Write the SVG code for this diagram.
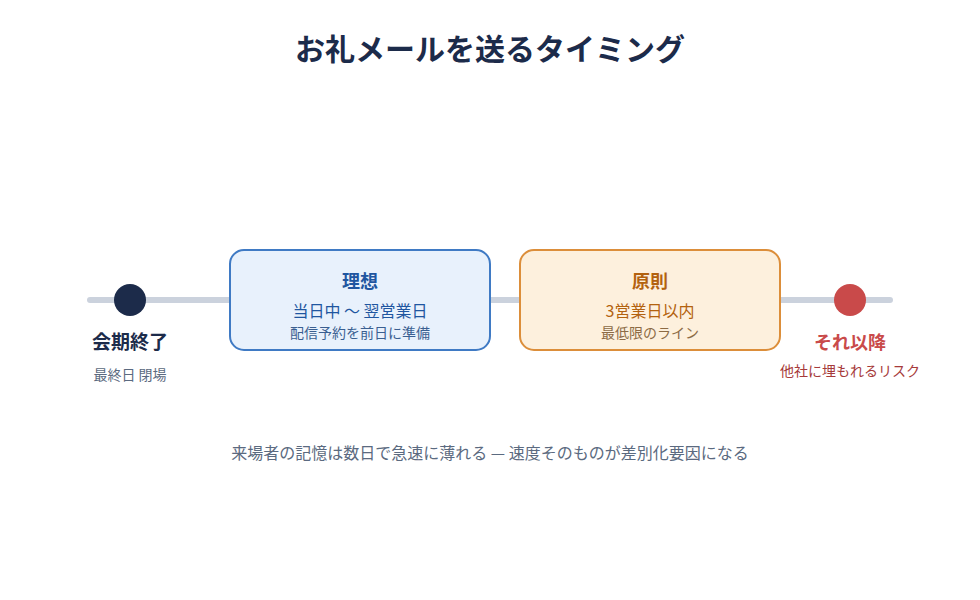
<svg xmlns="http://www.w3.org/2000/svg" width="980" height="600" viewBox="0 0 980 600">
<style>
text{font-family:"Noto Sans CJK JP","Noto Sans",sans-serif;text-anchor:middle}
.b{font-weight:700}
</style>
<rect width="980" height="600" fill="#fff"/>
<text x="490" y="60" class="b" font-size="30" fill="#1c2b4a">お礼メールを送るタイミング</text>
<g id="connectors"><line x1="90" y1="300" x2="890" y2="300" stroke="#cbd2dd" stroke-width="6" stroke-linecap="round"/></g>
<g id="start">
<circle cx="130" cy="300" r="16" fill="#1c2b4a"/>
<text x="130" y="349" class="b" font-size="19" fill="#1c2b4a">会期終了</text>
<text x="130" y="380" font-size="14" fill="#5b6a80">最終日 閉場</text>
</g>
<g id="ideal">
<rect x="230" y="250" width="260" height="100" rx="14" fill="#e8f1fc" stroke="#3f7ac4" stroke-width="2"/>
<text x="360" y="288" class="b" font-size="18" fill="#1f56a0">理想</text>
<text x="360" y="317" font-size="16" fill="#1f56a0">当日中 〜 翌営業日</text>
<text x="360" y="338" font-size="14" fill="#3a5f91">配信予約を前日に準備</text>
</g>
<g id="rule">
<rect x="520" y="250" width="260" height="100" rx="14" fill="#fdf0dd" stroke="#dc8e3a" stroke-width="2"/>
<text x="650" y="288" class="b" font-size="18" fill="#b3620f">原則</text>
<text x="650" y="317" font-size="16" fill="#b3620f">3営業日以内</text>
<text x="650" y="338" font-size="14" fill="#8c6b45">最低限のライン</text>
</g>
<g id="after">
<circle cx="850" cy="300" r="16" fill="#c94a4a"/>
<text x="850" y="349" class="b" font-size="18" fill="#c94a4a">それ以降</text>
<text x="850" y="376" font-size="14" fill="#a63a3a">他社に埋もれるリスク</text>
</g>
<text x="490" y="459" font-size="16" fill="#5b6a80">来場者の記憶は数日で急速に薄れる — 速度そのものが差別化要因になる</text>
</svg>
